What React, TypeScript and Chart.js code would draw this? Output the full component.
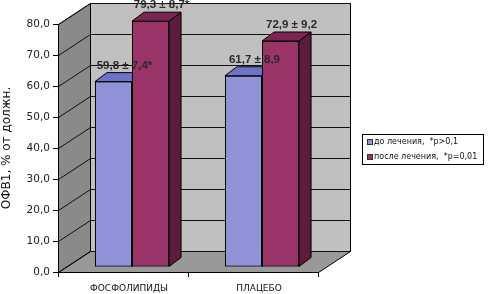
import React, { useEffect, useRef } from "react";
import { Chart, registerables } from "chart.js";

Chart.register(...registerables);

const categories = ["ФОСФОЛИПИДЫ", "ПЛАЦЕБО"];
const seriesNames = ["до лечения,  *p>0,1", "после лечения,  *p=0,01"];
const beforeValues = [59.8, 61.7];
const afterValues = [79.3, 72.9];
const beforeLabels = ["59,8 ± 7,4*", "61,7 ± 8,9"];
const afterLabels = ["79,3 ± 8,7*", "72,9 ± 9,2"];
const yTicks = [0, 10, 20, 30, 40, 50, 60, 70, 80];
const yTitle = "ОФВ1, % от должн.";

const frontColors = ["#9292d8", "#9a3468"];
const topColors = ["#6f73c8", "#7c2552"];
const sideColors = ["#5c5fa8", "#5e1b3f"];
const valueLabels = [beforeLabels, afterLabels];

const WALL = { x: 32, y: -21 };
const SHIFT = { x: 9, y: -5 };
const BAR = { x: 12, y: -9 };

function poly(ctx: CanvasRenderingContext2D, pts: number[][], fill: string, stroke = "#000") {
  ctx.beginPath();
  ctx.moveTo(pts[0][0], pts[0][1]);
  for (let i = 1; i < pts.length; i++) ctx.lineTo(pts[i][0], pts[i][1]);
  ctx.closePath();
  ctx.fillStyle = fill;
  ctx.fill();
  ctx.strokeStyle = stroke;
  ctx.lineWidth = 1;
  ctx.stroke();
}

const excel3d = {
  id: "excel3d",
  beforeDraw(chart: any) {
    const { ctx, chartArea: a, scales } = chart;
    const ys = scales.y;
    const L = a.left + 0.5, R = a.right + 0.5, T = Math.round(a.top) + 0.5, B = Math.round(a.bottom) + 0.5;
    const dx = WALL.x, dy = WALL.y;
    ctx.save();
    poly(ctx, [[L + dx, T + dy], [R + dx, T + dy], [R + dx, B + dy], [L + dx, B + dy]], "#c0c0c0");
    poly(ctx, [[L, T], [L + dx, T + dy], [L + dx, B + dy], [L, B]], "#8a8a8a");
    poly(ctx, [[L, B], [R, B], [R + dx, B + dy], [L + dx, B + dy]], "#999999");
    ctx.strokeStyle = "#111";
    ctx.lineWidth = 1;
    for (const v of yTicks) {
      const py = Math.round(ys.getPixelForValue(v)) + 0.5;
      ctx.beginPath();
      ctx.moveTo(L, py);
      ctx.lineTo(L + dx, py + dy);
      ctx.lineTo(R + dx, py + dy);
      ctx.stroke();
    }
    ctx.restore();
  },
  beforeDatasetsDraw(chart: any) {
    chart.ctx.save();
    chart.ctx.translate(SHIFT.x, SHIFT.y);
  },
  afterDatasetsDraw(chart: any) {
    const ctx = chart.ctx;
    const n = chart.data.labels.length;
    const metas = chart.data.datasets.map((_: any, i: number) => chart.getDatasetMeta(i));
    // redraw in front-to-back order per category so 3D faces overlap correctly
    for (let j = 0; j < n; j++) {
      metas.forEach((meta: any, i: number) => {
        const el = meta.data[j];
        el.draw(ctx, chart.chartArea);
        const p = el.getProps(["x", "y", "base", "width"], true);
        const l = p.x - p.width / 2, r = p.x + p.width / 2, t = p.y, b = p.base;
        poly(ctx, [[r, t], [r + BAR.x, t + BAR.y], [r + BAR.x, b + BAR.y], [r, b]], sideColors[i]);
        poly(ctx, [[l, t], [r, t], [r + BAR.x, t + BAR.y], [l + BAR.x, t + BAR.y]], topColors[i]);
      });
    }
    ctx.font = "bold 11.5px 'Liberation Sans', Arial, sans-serif";
    ctx.fillStyle = "#2a2a2a";
    ctx.textAlign = "center";
    ctx.textBaseline = "middle";
    metas.forEach((meta: any, i: number) => {
      meta.data.forEach((el: any, j: number) => {
        const p = el.getProps(["x", "y"], true);
        ctx.fillText(valueLabels[i][j], p.x + 11, p.y - 16);
      });
    });
    ctx.restore();
  },
  afterDraw(chart: any) {
    const ctx = chart.ctx;
    ctx.save();
    ctx.strokeStyle = "#000";
    ctx.lineWidth = 1;
    ctx.strokeRect(362.5, 134.5, 121, 30);
    ctx.font = "8px 'DejaVu Sans', sans-serif";
    ctx.textAlign = "left";
    ctx.textBaseline = "middle";
    chart.data.datasets.forEach((ds: any, i: number) => {
      const cy = 142 + i * 15;
      ctx.fillStyle = frontColors[i];
      ctx.fillRect(367.5, cy - 2.5, 5, 5);
      ctx.strokeStyle = "#333";
      ctx.strokeRect(367.5, cy - 2.5, 5, 5);
      ctx.fillStyle = "#111";
      ctx.fillText(ds.label, 374, cy);
    });
    ctx.restore();
  },
};

export default function App() {
  const ref = useRef<HTMLCanvasElement>(null);
  useEffect(() => {
    const chart = new Chart(ref.current!, {
      type: "bar",
      data: {
        labels: categories,
        datasets: [
          {
            label: seriesNames[0],
            data: beforeValues,
            backgroundColor: frontColors[0],
            borderColor: "#000",
            borderWidth: 1,
            borderSkipped: false,
          },
          {
            label: seriesNames[1],
            data: afterValues,
            backgroundColor: frontColors[1],
            borderColor: "#000",
            borderWidth: 1,
            borderSkipped: false,
          },
        ],
      },
      options: {
        responsive: false,
        animation: false,
        devicePixelRatio: 1,
        layout: { padding: { top: 24, right: 173, bottom: 0, left: 0 } },
        datasets: { bar: { categoryPercentage: 0.57, barPercentage: 1, clip: false } } as any,
        plugins: { legend: { display: false }, tooltip: { enabled: false } },
        scales: {
          x: {
            grid: { display: true, drawOnChartArea: false, drawTicks: true, tickLength: 5, color: "#000", offset: true },
            border: { display: true, color: "#000" },
            ticks: { color: "#111", padding: 6, labelOffset: 6, font: { family: "'DejaVu Sans', sans-serif", size: 9 } },
            afterFit: (s: any) => { s.height = 22; },
          },
          y: {
            min: 0,
            max: 80,
            afterBuildTicks: (s: any) => { s.ticks = yTicks.map((v) => ({ value: v })); },
            grid: { display: true, drawOnChartArea: false, drawTicks: true, tickLength: 5, color: "#000" },
            border: { display: true, color: "#000" },
            ticks: {
              color: "#222",
              padding: 3,
              font: { family: "'DejaVu Sans', sans-serif", size: 10.5 },
              callback: (v: any) => Number(v).toFixed(1).replace(".", ","),
            },
            title: { display: true, text: yTitle, color: "#111", padding: 0, font: { family: "'DejaVu Sans', sans-serif", size: 12 } },
            afterFit: (s: any) => { s.width = 58; },
          },
        },
      },
      plugins: [excel3d],
    });
    return () => chart.destroy();
  }, []);
  return (
    <div style={{ position: "absolute", left: 0, top: 0, width: 491, height: 294, background: "#fff" }}>
      <canvas ref={ref} width={491} height={294} />
    </div>
  );
}
